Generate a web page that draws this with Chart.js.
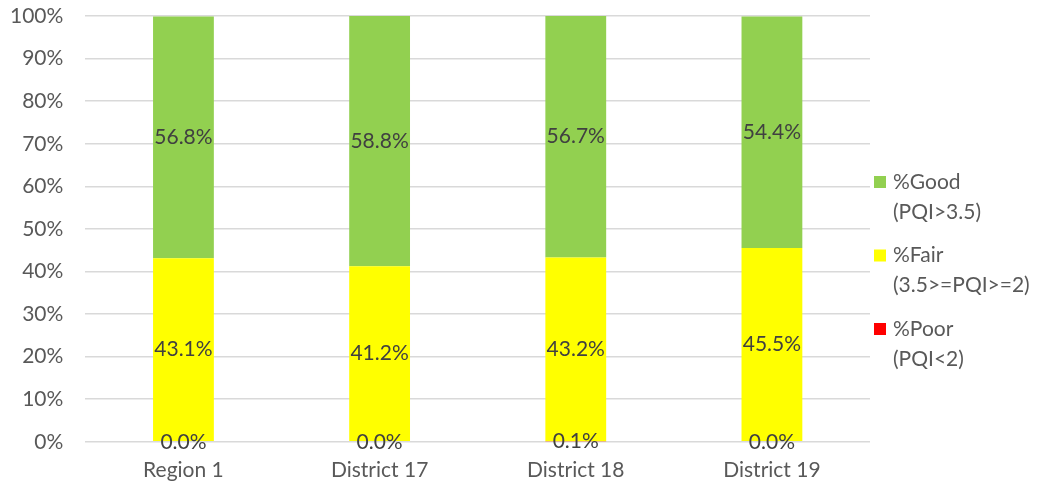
<!DOCTYPE html>
<html><head><meta charset="utf-8">
<script src="https://cdn.jsdelivr.net/npm/chart.js@4/dist/chart.umd.min.js"></script>
<style>html,body{margin:0;padding:0;background:#fff}#wrap{width:1038px;height:489px}</style>
</head><body><div id="wrap"><canvas id="c"></canvas></div>
<script>
const categories = ['Region 1', 'District 17', 'District 18', 'District 19'];
const poorValues = [0.0, 0.0, 0.1, 0.0];
const fairValues = [43.1, 41.2, 43.2, 45.5];
const goodValues = [56.8, 58.8, 56.7, 54.4];
const yTicks = [0,10,20,30,40,50,60,70,80,90,100];
const seriesLabels = [['%Poor','(PQI<2)'], ['%Fair','(3.5>=PQI>=2)'], ['%Good','(PQI>3.5)']];

const FONT = 'Lato, "Liberation Sans", sans-serif';
const FS = 21;

const labelPlugin = {
  id: 'segLabels',
  afterDatasetsDraw(chart) {
    const ctx = chart.ctx;
    ctx.save();
    ctx.font = FS + 'px ' + FONT;
    ctx.fillStyle = '#404040';
    ctx.textAlign = 'center';
    ctx.textBaseline = 'middle';
    chart.data.datasets.forEach((ds, di) => {
      const meta = chart.getDatasetMeta(di);
      meta.data.forEach((bar, i) => {
        const v = ds.data[i];
        const yc = (bar.y + bar.base) / 2;
        ctx.fillText(v.toFixed(1) + '%', bar.x, yc);
      });
    });
    ctx.restore();
  }
};

const legendPlugin = {
  id: 'customLegend',
  afterDraw(chart) {
    const ctx = chart.ctx;
    ctx.save();
    ctx.font = FS + 'px ' + FONT;
    ctx.textBaseline = 'middle';
    ctx.textAlign = 'left';
    const ds = chart.data.datasets;
    const order = [2, 1, 0];
    const startY = 182, step = 73.5, lineH = 30;
    order.forEach((di, k) => {
      const y = startY + k * step;
      ctx.fillStyle = ds[di].backgroundColor;
      ctx.fillRect(874, y - 6, 12, 12);
      ctx.fillStyle = '#595959';
      const lines = ds[di].label;
      lines.forEach((ln, j) => ctx.fillText(ln, 893, y + j * lineH));
    });
    ctx.restore();
  }
};

new Chart(document.getElementById('c'), {
  type: 'bar',
  data: {
    labels: categories,
    datasets: [
      { label: seriesLabels[0], data: poorValues, backgroundColor: '#ff0000' },
      { label: seriesLabels[1], data: fairValues, backgroundColor: '#ffff00' },
      { label: seriesLabels[2], data: goodValues, backgroundColor: '#92d050' }
    ]
  },
  options: {
    responsive: true,
    maintainAspectRatio: false,
    animation: false,
    layout: { padding: { left: -12, right: 168, top: 16, bottom: -10 } },
    datasets: { bar: { barPercentage: 0.31, categoryPercentage: 1.0 } },
    plugins: { legend: { display: false }, tooltip: { enabled: false } },
    scales: {
      x: {
        stacked: true,
        grid: { display: false, drawTicks: false },
        border: { display: false },
        ticks: { color: '#595959', font: { family: FONT, size: FS }, padding: 16 },
        afterFit(s) { s.paddingLeft = 0; s.paddingRight = 0; }
      },
      y: {
        stacked: true,
        min: 0, max: 100,
        afterBuildTicks(axis) { axis.ticks = yTicks.map(v => ({ value: v })); },
        afterFit(s) { s.paddingTop = 0; s.paddingBottom = 0; },
        grid: { color: '#d9d9d9', lineWidth: 1.5, drawTicks: false },
        border: { display: false },
        ticks: { color: '#595959', font: { family: FONT, size: FS }, padding: 22,
                 callback: v => v + '%' }
      }
    }
  },
  plugins: [labelPlugin, legendPlugin]
});
</script></body></html>
